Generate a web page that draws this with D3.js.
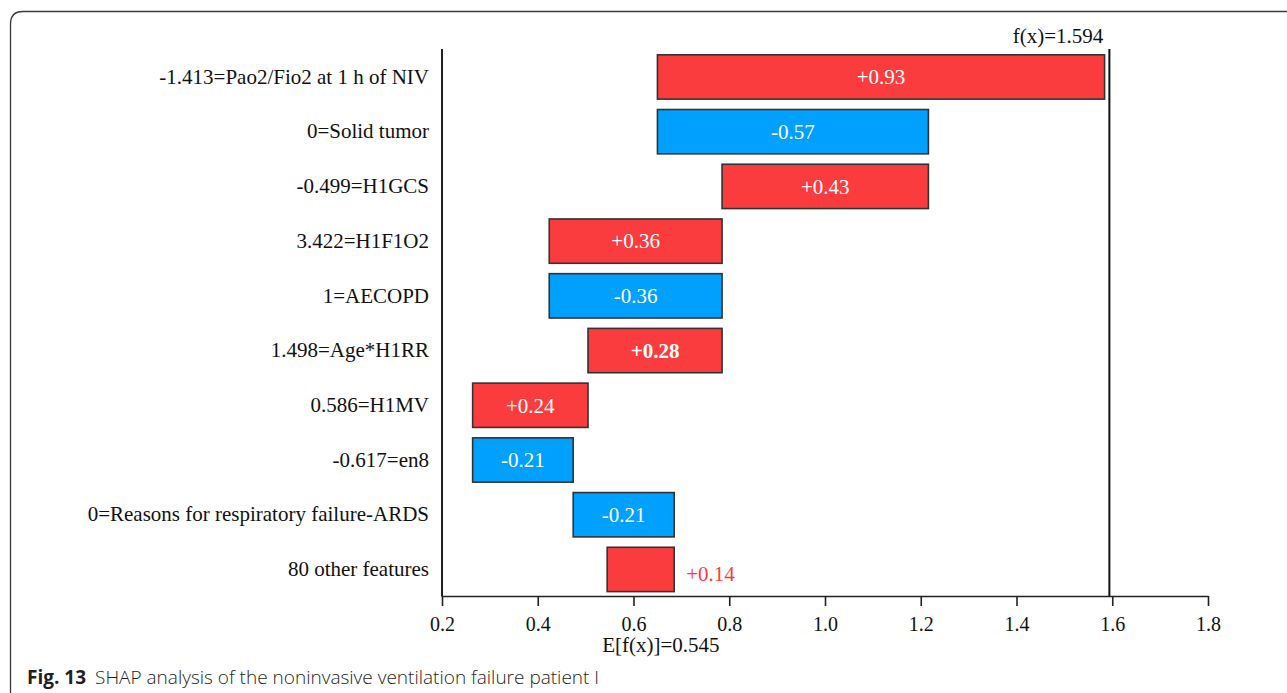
<!DOCTYPE html>
<html>
<head>
<meta charset="utf-8">
<script src="https://cdn.jsdelivr.net/npm/d3@7"></script>
<style>
  html, body { margin: 0; padding: 0; background: #fff; }
  svg { display: block; }
</style>
</head>
<body>
<svg id="chart" width="1287" height="693"></svg>
<script>
// Feature labels, top to bottom, and their SHAP contributions
const features = [
  "-1.413=Pao2/Fio2 at 1 h of NIV",
  "0=Solid tumor",
  "-0.499=H1GCS",
  "3.422=H1F1O2",
  "1=AECOPD",
  "1.498=Age*H1RR",
  "0.586=H1MV",
  "-0.617=en8",
  "0=Reasons for respiratory failure-ARDS",
  "80 other features"
];
const shapValues = [0.934, -0.566, 0.431, 0.361, -0.361, 0.280, 0.241, -0.210, -0.211, 0.140];
const boldLabels = ["1.498=Age*H1RR"];
const baseValue = 0.545;   // E[f(x)]
const outputValue = 1.594; // f(x)
const xTicks = [0.2, 0.4, 0.6, 0.8, 1.0, 1.2, 1.4, 1.6, 1.8];

const RED = "#fb3c3e", BLUE = "#00a0ff";
const serif = "'Liberation Serif', 'Times New Roman', serif";

const svg = d3.select("#chart");

// Figure frame with a rounded top-left corner
svg.append("path")
  .attr("d", "M10.5,700 L10.5,24 Q10.5,11.5 23,11.5 L1300,11.5")
  .attr("fill", "none").attr("stroke", "#3a3a3a").attr("stroke-width", 1.3);

const x = d3.scaleLinear().domain([0.2, 1.8]).range([442, 1208]);
const y = d3.scaleBand().domain(features).range([49.6, 596.8])
  .paddingInner(0.19).paddingOuter(0.095);

// Accumulate contributions from the bottom row up, starting at the base value
const rows = [];
let acc = baseValue;
for (let i = features.length - 1; i >= 0; i--) {
  const start = acc, end = acc + shapValues[i];
  rows.unshift({ name: features[i], value: shapValues[i], start, end });
  acc = end;
}

const fmt = v => (v >= 0 ? "+" : "-") + Math.abs(v).toFixed(2);

const g = svg.append("g");

// Bars
g.selectAll("rect.bar").data(rows).join("rect")
  .attr("class", "bar")
  .attr("x", d => x(Math.min(d.start, d.end)))
  .attr("y", d => y(d.name))
  .attr("width", d => Math.abs(x(d.end) - x(d.start)))
  .attr("height", y.bandwidth())
  .attr("fill", d => d.value >= 0 ? RED : BLUE)
  .attr("stroke", "#333").attr("stroke-width", 1.6);

// Value labels: inside wide bars, to the right of narrow ones
g.selectAll("text.val").data(rows).join("text")
  .attr("class", "val")
  .each(function(d) {
    const w = Math.abs(x(d.end) - x(d.start));
    const inside = w > 80;
    const t = d3.select(this)
      .attr("y", y(d.name) + y.bandwidth() / 2 + (inside ? 0 : 4))
      .attr("dy", "0.35em")
      .attr("font-family", serif).attr("font-size", 21)
      .attr("font-weight", boldLabels.includes(d.name) ? "bold" : "normal")
      .text(fmt(d.value));
    if (inside) {
      t.attr("x", (x(d.start) + x(d.end)) / 2).attr("text-anchor", "middle").attr("fill", "#fff");
    } else {
      t.attr("x", x(Math.max(d.start, d.end)) + 12).attr("text-anchor", "start")
        .attr("fill", d.value >= 0 ? RED : BLUE);
    }
  });

// f(x) reference line
g.append("line")
  .attr("x1", x(outputValue)).attr("x2", x(outputValue))
  .attr("y1", 49).attr("y2", 596)
  .attr("stroke", "#111").attr("stroke-width", 2);
g.append("text")
  .attr("x", x(outputValue) - 6).attr("y", 43)
  .attr("text-anchor", "end")
  .attr("font-family", serif).attr("font-size", 21).attr("fill", "#111")
  .text("f(x)=" + outputValue.toFixed(3));

// Y axis (feature names)
const yAxis = g.append("g")
  .attr("transform", `translate(${x.range()[0]},0)`)
  .call(d3.axisLeft(y).tickSize(0).tickPadding(13));
yAxis.select(".domain").attr("stroke", "#222").attr("stroke-width", 2)
  .attr("d", `M0,49V596.5`);
yAxis.selectAll("text").attr("font-family", serif).attr("font-size", 21).attr("fill", "#111");

// X axis
const xAxis = g.append("g")
  .attr("transform", "translate(0,596)")
  .call(d3.axisBottom(x).tickValues(xTicks).tickFormat(d3.format(".1f"))
    .tickSize(10).tickSizeOuter(0).tickPadding(11));
xAxis.select(".domain").attr("stroke", "#222").attr("stroke-width", 1.6);
xAxis.selectAll(".tick line").attr("stroke", "#222").attr("stroke-width", 1.6);
xAxis.selectAll("text").attr("font-family", serif).attr("font-size", 20).attr("fill", "#111");

// Base value label under the axis
g.append("text")
  .attr("x", x(baseValue) - 5).attr("y", 652)
  .attr("text-anchor", "start")
  .attr("font-family", serif).attr("font-size", 21).attr("fill", "#111")
  .text("E[f(x)]=" + baseValue.toFixed(3));

// Caption
const cap = svg.append("text")
  .attr("x", 27).attr("y", 684)
  .attr("font-family", "'Open Sans', 'Noto Sans', sans-serif")
  .attr("font-size", 19).attr("fill", "#231f20");
cap.append("tspan").attr("font-weight", "bold").text("Fig. 13");
cap.append("tspan").attr("dx", 9).attr("font-weight", 300)
  .text("SHAP analysis of the noninvasive ventilation failure patient I");
</script>
</body>
</html>
